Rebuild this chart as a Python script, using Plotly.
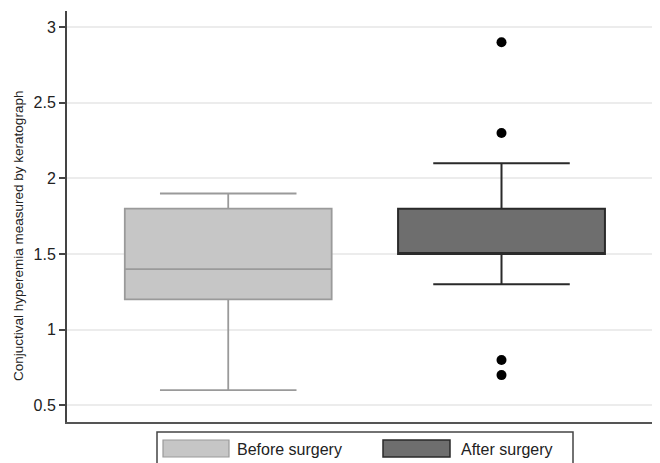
import plotly.graph_objects as go

groups = ["Before surgery", "After surgery"]
q1 = [1.2, 1.5]
median = [1.4, 1.5]
q3 = [1.8, 1.8]
lower = [0.6, 1.3]
upper = [1.9, 2.1]
outlier_group = ["After surgery", "After surgery", "After surgery", "After surgery"]
outlier_vals = [2.9, 2.3, 0.8, 0.7]

fills = ["#c6c6c6", "#6e6e6e"]
lines = ["#9a9a9a", "#2a2a2a"]

fig = go.Figure()
for i, g in enumerate(groups):
    fig.add_trace(go.Box(
        x=[g], q1=[q1[i]], median=[median[i]], q3=[q3[i]],
        lowerfence=[lower[i]], upperfence=[upper[i]],
        fillcolor=fills[i], line=dict(color=lines[i], width=2 if i else 1.8),
        width=0.757, whiskerwidth=0.66, boxpoints=False, showlegend=False,
        hoverinfo="y",
    ))
fig.add_trace(go.Scatter(
    x=outlier_group, y=outlier_vals, mode="markers",
    marker=dict(color="black", size=10), showlegend=False,
))

# page body has an 8px default margin; work in window pixels
OFF = 8
WIN_W, WIN_H = 660, 463
PL, PR, PT, PB = 67, 660, 11, 422  # plot area in window pixels
W, H = WIN_W - OFF, WIN_H - OFF
pw, ph = PR - PL, PB - PT
def px(x): return (x - PL) / pw
def py(y): return (PB - y) / ph

shapes = [
    dict(type="rect", xref="paper", yref="paper", x0=px(157), x1=px(573), y0=py(470), y1=py(432),
         line=dict(color="#444", width=1.5), fillcolor="white"),
    dict(type="rect", xref="paper", yref="paper", x0=px(163), x1=px(229), y0=py(457), y1=py(440),
         line=dict(color=lines[0], width=1.2), fillcolor=fills[0]),
    dict(type="rect", xref="paper", yref="paper", x0=px(383), x1=px(450), y0=py(457), y1=py(440),
         line=dict(color=lines[1], width=1.5), fillcolor=fills[1]),
]
annotations = [
    dict(text=groups[0], xref="paper", yref="paper", x=px(235), y=py(449), xanchor="left", yanchor="middle",
         showarrow=False, font=dict(size=16, color="#222")),
    dict(text=groups[1], xref="paper", yref="paper", x=px(459), y=py(449), xanchor="left", yanchor="middle",
         showarrow=False, font=dict(size=16, color="#222")),
    dict(text="Conjuctival hyperemia measured by keratograph", xref="paper", yref="paper",
         x=px(18), y=py(236), xanchor="center", yanchor="middle", textangle=-90,
         showarrow=False, font=dict(size=13.5, color="#222")),
]

fig.update_layout(
    width=W, height=H,
    margin=dict(l=PL - OFF, r=WIN_W - PR, t=PT - OFF, b=WIN_H - PB, pad=0, autoexpand=False),
    paper_bgcolor="white", plot_bgcolor="white",
    font=dict(family="Liberation Sans, Arial, sans-serif", color="#222"),
    shapes=shapes, annotations=annotations,
    showlegend=False,
    xaxis=dict(range=[-0.59, 1.58], showticklabels=False, ticks="", showgrid=False,
               showline=True, linecolor="#555", linewidth=1.5, zeroline=False, fixedrange=True),
    yaxis=dict(range=[0.39, 3.106], tickvals=[0.5, 1, 1.5, 2, 2.5, 3],
               ticktext=["0.5", "1", "1.5", "2", "2.5", "3"],
               ticks="outside", ticklen=6, tickwidth=1.5, tickcolor="#444",
               showline=True, linecolor="#444", linewidth=2, automargin=False,
               showgrid=True, gridcolor="#ececec", gridwidth=1.5, zeroline=False,
               tickfont=dict(size=16, color="#222"), fixedrange=True),
)

fig.write_html("out.html")
